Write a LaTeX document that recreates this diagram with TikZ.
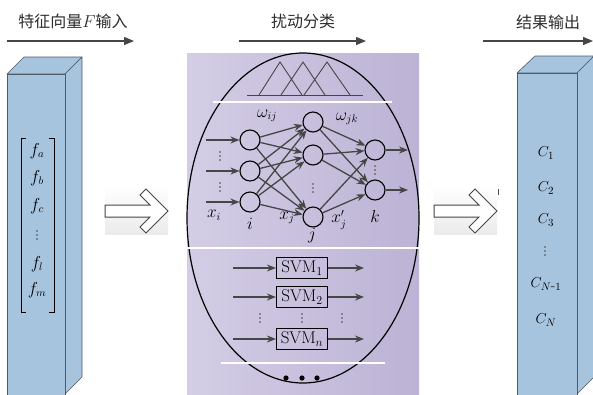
\documentclass[tikz,border=0pt]{standalone}
\usepackage{fontspec}
\newfontfamily\cjk{Noto Sans CJK SC}
\usetikzlibrary{arrows.meta}
\definecolor{boxblue}{RGB}{167,196,222}
\definecolor{boxline}{RGB}{80,90,100}
\definecolor{panelL}{RGB}{212,205,229}
\definecolor{panelR}{RGB}{188,179,213}
\definecolor{arrgray}{RGB}{70,70,70}
\definecolor{txtgray}{RGB}{45,45,45}
\tikzset{
  boxface/.style={fill=boxblue, draw=boxline, line width=0.6pt, line join=round},
  neuron/.style={circle, draw=black, line width=1.1pt, minimum size=20pt, inner sep=0pt},
  nnarrow/.style={draw=arrgray, line width=1.3pt, -{Stealth[length=9pt,width=7pt]}},
  svmbox/.style={draw=black, line width=1.2pt, minimum width=51pt, minimum height=21pt, inner sep=1pt, font=\fontsize{17}{17}\selectfont},
  hdr/.style={font=\cjk\fontsize{16}{16}\selectfont, text=txtgray, inner sep=0pt},
  hdrarrow/.style={draw=arrgray, line width=1.2pt, -{Triangle[length=10pt,width=8pt]}},
  mlabel/.style={font=\fontsize{16}{16}\selectfont, inner sep=0pt},
  clabel/.style={font=\fontsize{15}{15}\selectfont, inner sep=0pt},
  nnlabel/.style={font=\fontsize{16}{16}\selectfont, inner sep=0pt},
  whiteline/.style={draw=white, line width=2pt},
  hollow/.style={draw=arrgray, fill=white, line width=1pt, line join=miter},
  vdot/.pic={\fill[arrgray] (0,-4) circle (0.8) (0,0) circle (0.8) (0,4) circle (0.8);},
}
\begin{document}
\begin{tikzpicture}[x=1pt,y=-1pt]
\useasboundingbox (0,0) rectangle (593,394);
\fill[white] (0,0) rectangle (593,394);

% ---------- headers ----------
\node[hdr] (h1) at (73,21) {特征向量$F$输入};
\node[hdr] (h2) at (303,21) {扰动分类};
\node[hdr] (h3) at (548,22) {结果输出};
\coordinate (a1s) at (7,41);   \coordinate (a1e) at (134,41);
\coordinate (a2s) at (239,41); \coordinate (a2e) at (366,41);
\coordinate (a3s) at (483,41); \coordinate (a3e) at (593,41);
\draw[hdrarrow] (a1s) -- (a1e);
\draw[hdrarrow] (a2s) -- (a2e);
\draw[hdrarrow] (a3s) -- (a3e);

% ---------- left box ----------
\filldraw[boxface] (7,74) -- (24,57) -- (82,57) -- (65,74) -- cycle;
\filldraw[boxface] (65,74) -- (82,57) -- (82,377) -- (65,394) -- cycle;
\filldraw[boxface] (7,74) rectangle (65,396);
% matrix brackets
\draw[line width=0.8pt] (26,138) -- (21,138) -- (21,312) -- (26,312);
\draw[line width=0.8pt] (49,138) -- (54,138) -- (54,312) -- (49,312);
\node[mlabel] (fa) at (37,151) {$f_a$};
\node[mlabel] (fb) at (37,178) {$f_b$};
\node[mlabel] (fc) at (37,206) {$f_c$};
\pic at (37,235) {vdot};
\node[mlabel] (fl) at (37,264) {$f_l$};
\node[mlabel] (fm) at (37,290) {$f_m$};

% ---------- right box ----------
\filldraw[boxface] (517,73) -- (535,56) -- (594,56) -- (577,73) -- cycle;
\filldraw[boxface] (577,73) -- (594,56) -- (594,377) -- (577,394) -- cycle;
\filldraw[boxface] (517,73) rectangle (577,396);
\node[clabel] (c1) at (546,153) {$C_1$};
\node[clabel] (c2) at (546,188) {$C_2$};
\node[clabel] (c3) at (546,220) {$C_3$};
\pic at (545,251) {vdot};
\node[clabel] (cn1) at (546,284) {$C_{N\mbox{-}1}$};
\node[clabel] (cn) at (546,320) {$C_N$};

% ---------- hollow arrows ----------
\foreach \dx/\nm in {0/L,329/R}{
  \begin{scope}[xshift=\dx]
    \shade[top color=white, bottom color=black!8] (105,186) rectangle (168,234);
    \draw[hollow] (105,205) -- (150,205) -- (140,195) -- (146,189) -- (168,211)
       -- (146,233) -- (140,227) -- (150,217) -- (105,217) -- cycle;
  \end{scope}
}
\coordinate (tick1) at (498,189);
\coordinate (tick2) at (498,195);
\draw[black!70, line width=0.6pt] (tick1) -- (tick2);

% ---------- middle panel ----------
\shade[left color=panelL, right color=panelR] (187,53) rectangle (419,396);
\draw[line width=1.2pt] (303,218) ellipse [x radius=116, y radius=165];

% fuzzy triangles
\draw[arrgray, line width=0.9pt] (247,95) -- (363,95);
\draw[arrgray, line width=0.9pt, line join=miter]
  (259,95) -- (280,62) -- (302,95)
  (281,95) -- (303,62) -- (325,95)
  (304,95) -- (327,62) -- (350,95);
\draw[whiteline] (213,102) -- (392,102);

% neural net
\node[neuron] (i1) at (250,140) {};
\node[neuron] (i2) at (250,171) {};
\node[neuron] (i3) at (250,202) {};
\node[neuron] (j1) at (313,122) {};
\node[neuron] (j2) at (313,155) {};
\node[neuron] (j3) at (313,217) {};
\node[neuron] (k1) at (375,150) {};
\node[neuron] (k2) at (375,190) {};
\foreach \a in {1,2,3}{\foreach \b in {1,2,3}{\draw[nnarrow] (i\a) -- (j\b);}}
\foreach \a in {1,2,3}{\foreach \b in {1,2}{\draw[nnarrow] (j\a) -- (k\b);}}
\coordinate (x1) at (206,140); \coordinate (x2) at (206,171); \coordinate (x3) at (206,202);
\draw[nnarrow] (x1) -- (i1);
\draw[nnarrow] (x2) -- (i2);
\draw[nnarrow] (x3) -- (i3);
\coordinate (y1) at (408,150); \coordinate (y2) at (408,190);
\draw[nnarrow] (k1) -- (y1);
\draw[nnarrow] (k2) -- (y2);
\pic at (220,156) {vdot};
\pic at (220,187) {vdot};
\pic at (313,188) {vdot};
\pic at (375,170) {vdot};
\node[nnlabel] (lxi) at (214,215) {$x_i$};
\node[nnlabel] (li) at (250,224) {$i$};
\node[nnlabel] (lxj) at (287,218) {$x_j$};
\node[nnlabel] (lj) at (312,236) {$j$};
\node[nnlabel] (lxpj) at (339,220) {$x'_j$};
\node[nnlabel] (lk) at (375,216) {$k$};
\node[nnlabel] (wij) at (267,116) {$\omega_{ij}$};
\node[nnlabel] (wjk) at (347,119) {$\omega_{jk}$};

\draw[whiteline] (187,248) -- (419,248);

% SVMs
\node[svmbox] (s1) at (302,268) {SVM$_1$};
\node[svmbox] (s2) at (302,297) {SVM$_2$};
\node[svmbox] (s3) at (302,339) {SVM$_n$};
\foreach \s/\yy in {1/268,2/297,3/339}{
  \coordinate (si\s) at (233,\yy);
  \coordinate (so\s) at (364,\yy);
  \draw[nnarrow] (si\s) -- (s\s);
  \draw[nnarrow] (s\s) -- (so\s);
}
\pic at (260,318) {vdot};
\pic at (302,318) {vdot};
\pic at (342,318) {vdot};

\draw[whiteline] (221,363) -- (385,363);
\fill[black] (286,378) circle (2.6) (302,378) circle (2.6) (317,378) circle (2.6);
\end{tikzpicture}
\end{document}
